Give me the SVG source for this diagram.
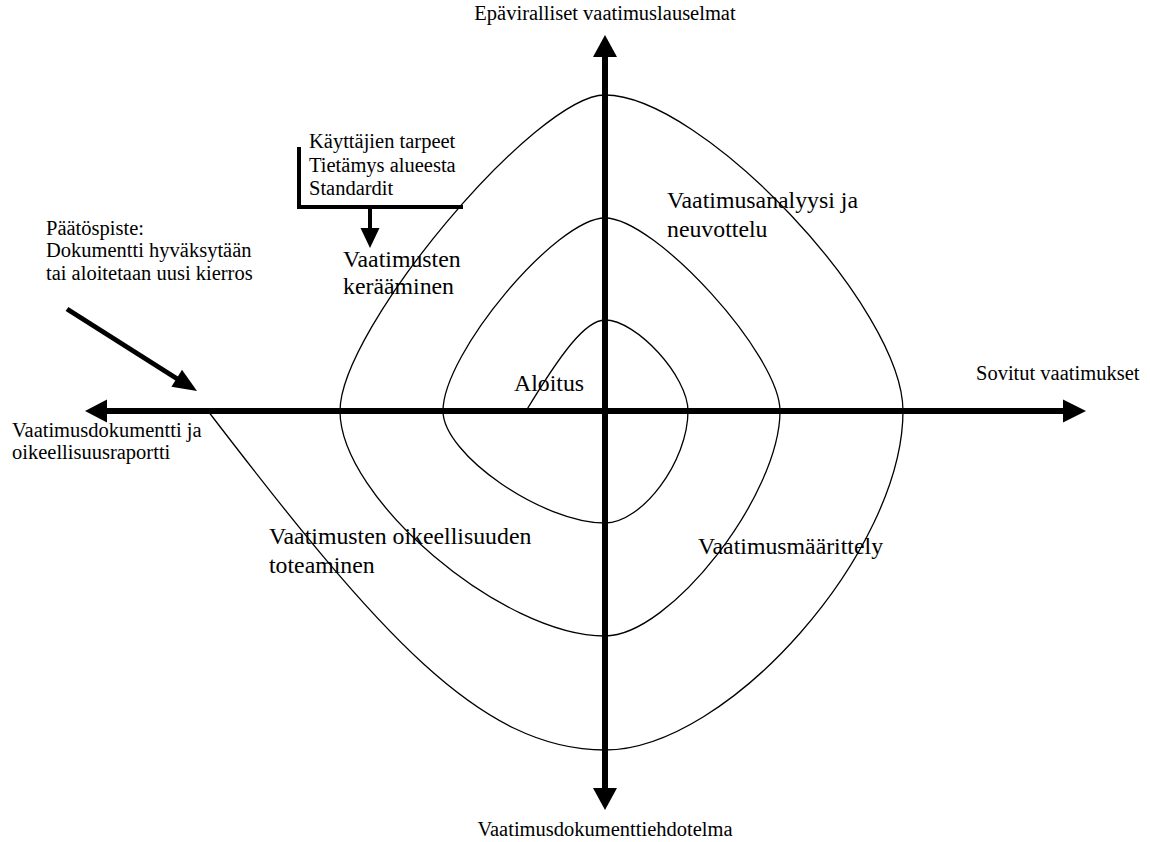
<svg xmlns="http://www.w3.org/2000/svg" width="1150" height="842" viewBox="0 0 1150 842">
  <style>
    text { font-family: "Liberation Serif", "Times New Roman", serif; fill: #000; }
    .small { font-size: 20.5px; }
    .big { font-size: 23.8px; }
    .axis { stroke: #000; stroke-width: 6; fill: none; }
    .head { fill: #000; stroke: none; }
    .spiral { stroke: #000; stroke-width: 1.3; fill: none; }
    .bar { stroke: #000; stroke-width: 4; fill: none; }
  </style>
  <rect width="1150" height="842" fill="#fff"/>

  <g id="connectors">
    <!-- axes -->
    <line class="axis" x1="104" y1="411" x2="1066" y2="411"/>
    <line class="axis" x1="605" y1="54" x2="605" y2="791"/>
    <polygon class="head" points="85,411 107,399.5 107,422.5"/>
    <polygon class="head" points="1086,411 1063,399.5 1063,422.5"/>
    <polygon class="head" points="605,35 593,57 617,57"/>
    <polygon class="head" points="605,810 593,788 617,788"/>

    <!-- spiral: starts at Aloitus, three loops outward, exits to the left axis -->
    <path class="spiral" d="M526,411
      C560,355 585,320 605,320
      C636.5,320 688,376.4 688,411
      C688,461.2 642.2,523 605,523
      C542.3,523 443,454.3 443,411
      C443,353.3 556.6,218 605,218
      C655.4,218 780,355.4 780,411
      C780,494.9 670.3,636 605,636
      C502.4,636 340,498.1 340,411
      C340,328.8 536.1,95 605,95
      C701.9,95 903,308.3 903,411
      C903,551 728.1,750 605,750
      C480,750 378,633 208,411"/>

    <!-- inputs bracket with arrow down -->
    <path class="bar" d="M299,147 V207 H463"/>
    <line class="bar" x1="370" y1="207" x2="370" y2="230"/>
    <polygon class="head" points="370,248 360.5,228 379.5,228"/>

    <!-- decision point arrow -->
    <line x1="67" y1="309" x2="179" y2="380" stroke="#000" stroke-width="5"/>
    <polygon class="head" points="197,391 171.4,386.7 182,369.7"/>
  </g>

  <g id="axis-top"><text class="small" x="605" y="20" text-anchor="middle">Epäviralliset vaatimuslauselmat</text></g>
  <g id="axis-right"><text class="small" x="976" y="380">Sovitut vaatimukset</text></g>
  <g id="axis-left">
    <text class="small" x="12" y="437">Vaatimusdokumentti ja</text>
    <text class="small" x="12" y="459">oikeellisuusraportti</text>
  </g>
  <g id="axis-bottom"><text class="small" x="605" y="836" text-anchor="middle">Vaatimusdokumenttiehdotelma</text></g>

  <g id="decision">
    <text class="small" x="46" y="235">Päätöspiste:</text>
    <text class="small" x="46" y="257">Dokumentti hyväksytään</text>
    <text class="small" x="46" y="280">tai aloitetaan uusi kierros</text>
  </g>

  <g id="inputs">
    <text class="small" x="309" y="148">Käyttäjien tarpeet</text>
    <text class="small" x="309" y="172">Tietämys alueesta</text>
    <text class="small" x="309" y="195">Standardit</text>
  </g>

  <g id="elicitation">
    <text class="big" x="343" y="267">Vaatimusten</text>
    <text class="big" x="343" y="294">kerääminen</text>
  </g>

  <g id="analysis">
    <text class="big" x="667" y="208">Vaatimusanalyysi ja</text>
    <text class="big" x="667" y="237">neuvottelu</text>
  </g>

  <g id="start"><text class="big" x="514" y="391">Aloitus</text></g>

  <g id="specification"><text class="big" x="698" y="554">Vaatimusmäärittely</text></g>

  <g id="validation">
    <text class="big" x="269" y="544">Vaatimusten oikeellisuuden</text>
    <text class="big" x="269" y="573">toteaminen</text>
  </g>
</svg>
